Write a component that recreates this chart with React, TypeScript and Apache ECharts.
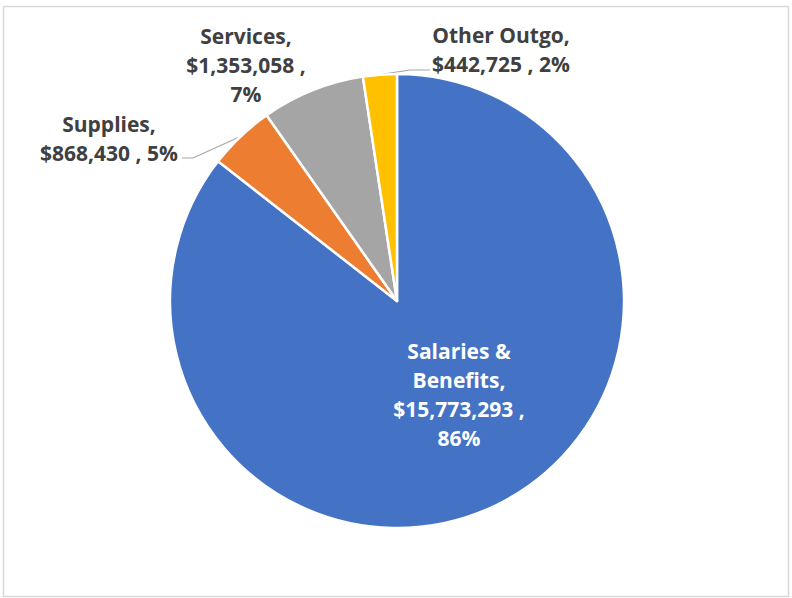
import React, { useEffect, useRef } from "react";
import * as echarts from "echarts";

const categories = ["Salaries & Benefits", "Supplies", "Services", "Other Outgo"];
const values = [15773293, 868430, 1353058, 442725];
const colors = ["#4472C4", "#ED7D31", "#A5A5A5", "#FFC000"];
// how each label's text is split across lines: name / value / percent
const nameLines = [["Salaries &", "Benefits,"], ["Supplies,"], ["Services,"], ["Other Outgo,"]];
const valueBreakBeforePct = [true, false, true, false];
const labelSpots = [
  { x: 459, y: 394 },
  { x: 109, y: 138 },
  { x: 246, y: 65 },
  { x: 501, y: 49 },
];

const fmtMoney = (v: number) => "$" + v.toLocaleString("en-US");

export default function App() {
  const ref = useRef<HTMLDivElement>(null);
  useEffect(() => {
    document.body.style.margin = "0";
    const chart = echarts.init(ref.current!, null, { renderer: "svg" });
    const total = values.reduce((a, b) => a + b, 0);
    const font = "'Open Sans', sans-serif";
    chart.setOption({
      animation: false,
      backgroundColor: "#ffffff",
      graphic: [
        {
          type: "rect",
          shape: { x: 3.5, y: 6.5, width: 785, height: 590 },
          style: { fill: "none", stroke: "#d9d9d9", lineWidth: 1.5 },
          silent: true,
        },
      ],
      series: [
        {
          type: "pie",
          center: [397, 301],
          radius: 227,
          startAngle: 90,
          clockwise: true,
          avoidLabelOverlap: false,
          itemStyle: { borderColor: "#ffffff", borderWidth: 2.5 },
          label: {
            show: true,
            position: "outside",
            color: "#404040",
            fontFamily: font,
            fontWeight: "bold",
            fontSize: 21,
            lineHeight: 29,
            align: "center",
            formatter: (p: any) => {
              const i = p.dataIndex;
              const pct = Math.round((values[i] / total) * 100) + "%";
              const money = fmtMoney(values[i]) + " ,";
              const tail = valueBreakBeforePct[i] ? money + "\n" + pct : money + " " + pct;
              return nameLines[i].join("\n") + "\n" + tail;
            },
          },
          labelLine: {
            show: true,
            lineStyle: { color: "#a6a6a6", width: 1.2 },
          },
          labelLayout: (p: any) => {
            const i = p.dataIndex;
            const s = labelSpots[i];
            const out: any = { x: s.x, y: s.y, align: "center", verticalAlign: "middle" };
            const pts = p.labelLinePoints;
            const w = p.labelRect ? p.labelRect.width : 0;
            if (pts && pts.length) {
              const p0 = pts[0];
              if (i === 1) {
                const right = s.x + w / 2;
                const ly = s.y + 20;
                out.labelLinePoints = [p0, [right + 15, ly], [right + 4, ly]];
              } else if (i === 3) {
                const left = s.x - w / 2;
                const ly = s.y + 21;
                out.labelLinePoints = [p0, [left - 22, ly], [left - 2, ly]];
              }
            }
            return out;
          },
          data: categories.map((name, i) => ({
            name,
            value: values[i],
            itemStyle: { color: colors[i] },
            label:
              i === 0
                ? { position: "inside", color: "#ffffff" }
                : undefined,
            labelLine: i === 0 || i === 2 ? { show: false } : undefined,
          })),
        },
      ],
    });
    return () => chart.dispose();
  }, []);
  return <div ref={ref} style={{ width: 792, height: 598 }} />;
}
